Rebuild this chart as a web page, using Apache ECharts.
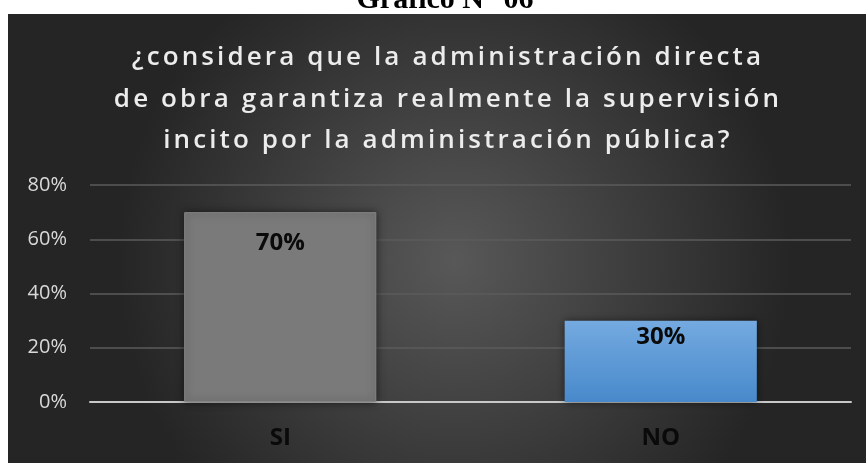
<!DOCTYPE html>
<html>
<head>
<meta charset="utf-8">
<script src="https://cdn.jsdelivr.net/npm/echarts@6/dist/echarts.min.js"></script>
<style>
  html, body { margin: 0; padding: 0; background: #fff; }
  #chart { width: 866px; height: 463px; }
</style>
</head>
<body>
<div id="chart"></div>
<script>
const categories = ['SI', 'NO']
const values = [70, 30]
const yTicks = { min: 0, max: 80, interval: 20 }
const titleText = '¿considera que la administración directa\nde obra garantiza realmente la supervisión\nincito por la administración pública?'

// the title in the original is letter-spaced; canvas can do that natively
const origFillText = CanvasRenderingContext2D.prototype.fillText
CanvasRenderingContext2D.prototype.fillText = function (...args) {
  if (this.font.indexOf('600') === 0 && this.font.indexOf('26px') > 0) {
    const prev = this.letterSpacing
    this.letterSpacing = '3.1px'
    origFillText.apply(this, args)
    this.letterSpacing = prev
    return
  }
  return origFillText.apply(this, args)
}

const chart = echarts.init(document.getElementById('chart'))

chart.setOption({
  backgroundColor: '#ffffff',
  graphic: [
    {
      type: 'rect',
      z: -10,
      silent: true,
      shape: { x: 8, y: 14, width: 858, height: 449 },
      style: {
        fill: {
          type: 'radial', x: 0.52, y: 0.55, r: 0.75,
          colorStops: [
            { offset: 0, color: '#585858' },
            { offset: 1, color: '#252525' },
          ],
        },
      },
    },
    {
      type: 'text',
      x: 445,
      y: 0,
      silent: true,
      style: {
        text: 'Gráfico N° 06',
        fill: '#000',
        font: 'bold 30px "Liberation Serif"',
        align: 'center',
        verticalAlign: 'middle',
      },
    },
  ],
  title: {
    text: titleText,
    left: 443,
    top: 32,
    textAlign: 'center',
    textStyle: {
      color: '#ececec',
      fontFamily: 'Open Sans',
      fontWeight: 600,
      fontSize: 26,
      lineHeight: 41.5,
    },
  },
  grid: { left: 90, right: 15, top: 185, bottom: 61 },
  xAxis: {
    type: 'category',
    data: categories,
    axisTick: { show: false },
    axisLine: { lineStyle: { color: '#c8c8c8', width: 2 } },
    axisLabel: {
      color: '#0a0a0a',
      fontFamily: 'Open Sans',
      fontWeight: 'bold',
      fontSize: 24,
      lineHeight: 24,
      margin: 24,
    },
  },
  yAxis: {
    type: 'value',
    min: yTicks.min,
    max: yTicks.max,
    interval: yTicks.interval,
    axisLine: { show: false },
    axisTick: { show: false },
    splitLine: { lineStyle: { color: '#5b5b5b', width: 1.5 } },
    axisLabel: {
      formatter: '{value}%',
      color: '#d9d9d9',
      fontFamily: 'Open Sans',
      fontSize: 20,
      margin: 23,
    },
  },
  series: [
    {
      type: 'bar',
      barWidth: '50.5%',
      data: [
        {
          value: values[0],
          itemStyle: { color: '#7a7a7a', borderColor: '#858585', borderWidth: 1 },
          label: { distance: 19 },
        },
        {
          value: values[1],
          itemStyle: {
            color: {
              type: 'linear', x: 0, y: 0, x2: 0, y2: 1,
              colorStops: [
                { offset: 0, color: '#74aae0' },
                { offset: 1, color: '#4889cb' },
              ],
            },
          },
          label: { distance: 5 },
        },
      ],
      itemStyle: {
        shadowBlur: 8,
        shadowColor: 'rgba(0,0,0,0.55)',
      },
      label: {
        show: true,
        position: 'insideTop',
        formatter: '{c}%',
        color: '#0a0a0a',
        fontFamily: 'Open Sans',
        fontWeight: 'bold',
        fontSize: 24,
        lineHeight: 24,
      },
    },
  ],
})
</script>
</body>
</html>
